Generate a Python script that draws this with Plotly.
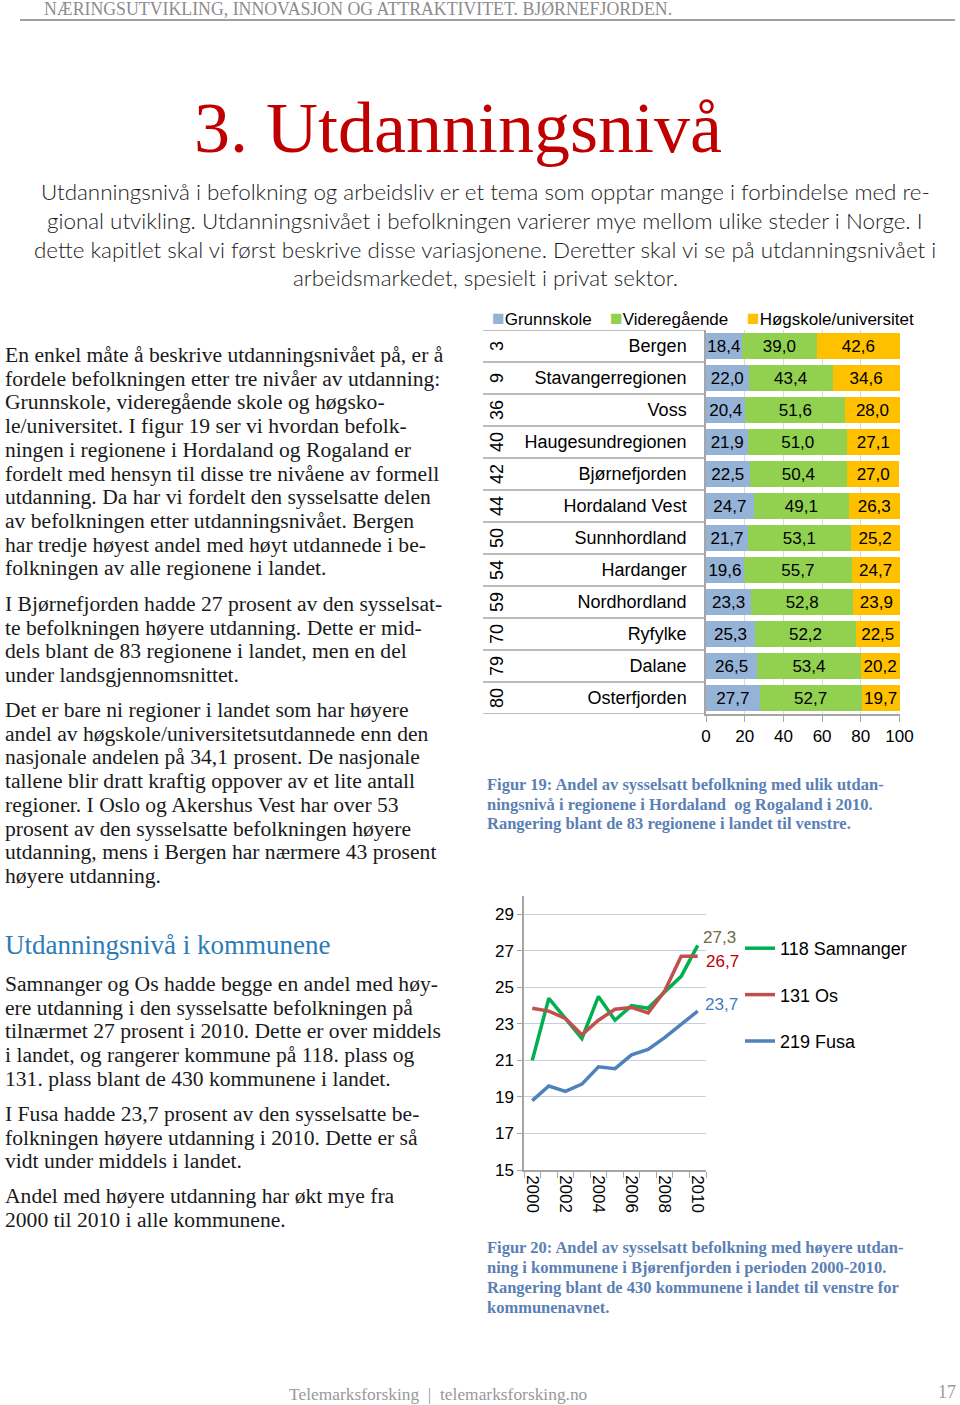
import plotly.graph_objects as go

W, H = 960, 1405
def X(px): return px / W
def Y(py): return 1 - py / H

# ---------------- data ----------------
regions = ["Bergen", "Stavangerregionen", "Voss", "Haugesundregionen", "Bjørnefjorden",
           "Hordaland Vest", "Sunnhordland", "Hardanger", "Nordhordland", "Ryfylke",
           "Dalane", "Osterfjorden"]
ranks = [3, 9, 36, 40, 42, 44, 50, 54, 59, 70, 79, 80]
grunnskole = [18.4, 22.0, 20.4, 21.9, 22.5, 24.7, 21.7, 19.6, 23.3, 25.3, 26.5, 27.7]
videregaende = [39.0, 43.4, 51.6, 51.0, 50.4, 49.1, 53.1, 55.7, 52.8, 52.2, 53.4, 52.7]
hogskole = [42.6, 34.6, 28.0, 27.1, 27.0, 26.3, 25.2, 24.7, 23.9, 22.5, 20.2, 19.7]
bar_series = ["Grunnskole", "Videregående", "Høgskole/universitet"]

years = [2000, 2001, 2002, 2003, 2004, 2005, 2006, 2007, 2008, 2009, 2010]
samnanger = [21.0, 24.4, 23.3, 22.2, 24.5, 23.2, 24.0, 23.85, 24.75, 25.6, 27.3]
os_ = [23.85, 23.7, 23.3, 22.4, 23.2, 23.8, 23.9, 23.6, 24.8, 26.7, 26.7]
fusa = [18.8, 19.6, 19.3, 19.7, 20.65, 20.55, 21.3, 21.6, 22.25, 23.0, 23.7]
line_names = ["118 Samnanger", "131 Os", "219 Fusa"]

def fmt(v):
    return f"{v:.1f}".replace(".", ",")

SANS = "Liberation Sans, Arial, sans-serif"
SERIF = "Liberation Serif, Times New Roman, serif"
BAR_COLORS = ["#95B3D7", "#92D050", "#FFC000"]
LINE_COLORS = ["#00B050", "#C0504D", "#4F81BD"]
LABEL_COLORS = ["#6B6B45", "#C00000", "#3A7EC0"]
LABEL_SHIFTS = [(22, 8), (25, -5), (24, 7)]

fig = go.Figure()

# ---------------- bar chart ----------------
for name, vals, col in zip(bar_series, [grunnskole, videregaende, hogskole], BAR_COLORS):
    fig.add_trace(go.Bar(
        y=regions, x=vals, orientation="h", name=name, marker_color=col,
        marker_line_width=0, text=[fmt(v) for v in vals], textposition="inside",
        insidetextanchor="middle", constraintext="none",
        textfont=dict(family=SANS, size=17, color="black"),
        showlegend=False, xaxis="x", yaxis="y", cliponaxis=False))

# ---------------- line chart ----------------
ann = []
for name, vals, col, lcol, (dx, dy) in zip(line_names, [samnanger, os_, fusa], LINE_COLORS,
                                           LABEL_COLORS, LABEL_SHIFTS):
    fig.add_trace(go.Scatter(
        x=years, y=vals, mode="lines", name=name, line=dict(color=col, width=3.5),
        legendgroup=name, xaxis="x2", yaxis="y2"))
    ann.append(dict(x=years[-1], y=vals[-1], xref="x2", yref="y2", text=fmt(vals[-1]),
                    showarrow=False, xshift=dx, yshift=dy,
                    font=dict(family=SANS, size=17, color=lcol)))

AX_LINE = "#A6A6A6"
fig.update_layout(
    width=W, height=H, margin=dict(l=0, r=0, t=0, b=0, autoexpand=False),
    paper_bgcolor="white", plot_bgcolor="rgba(0,0,0,0)",
    barmode="stack", bargap=0.19,
    uniformtext=dict(minsize=17, mode="show"),
    xaxis=dict(domain=[X(706), X(900)], anchor="y", range=[0, 100.25],
               tickvals=[0, 20, 40, 60, 80, 100], showgrid=True, gridcolor="#D9D9D9",
               showline=True, linecolor=AX_LINE, linewidth=1.5, ticks="outside", ticklen=6,
               tickcolor=AX_LINE, tickfont=dict(family=SANS, size=17, color="black"),
               zeroline=False, automargin=False),
    yaxis=dict(domain=[Y(714), Y(330)], anchor="x", type="category",
               categoryorder="array", categoryarray=regions, range=[11.5, -0.5],
               showline=True, linecolor=AX_LINE, linewidth=1.5, ticks="",
               ticklabelstandoff=14, automargin=False,
               tickfont=dict(family=SANS, size=18, color="black"), showgrid=False),
    xaxis2=dict(domain=[X(524), X(706)], anchor="y2", range=[1999.5, 2010.5],
                tickvals=[2000, 2002, 2004, 2006, 2008, 2010], tickangle=90, ticks="",
                showline=True, linecolor=AX_LINE, linewidth=1.5, showgrid=False, zeroline=False,
                tickfont=dict(family=SANS, size=17, color="black"), automargin=False,
                minor=dict(tick0=1999.5, dtick=1, ticks="outside", ticklen=6,
                           tickcolor=AX_LINE, showgrid=False)),
    yaxis2=dict(domain=[Y(1170), Y(896)], anchor="x2", range=[15, 30],
                tickvals=[15, 17, 19, 21, 23, 25, 27, 29], showgrid=True,
                gridcolor="#C3D0DF", gridwidth=1.3, showline=True, linecolor=AX_LINE,
                linewidth=1.5, ticks="outside", ticklen=5, tickcolor=AX_LINE,
                tickfont=dict(family=SANS, size=17, color="black"), zeroline=False,
                automargin=False),
    legend=dict(x=X(740), y=Y(930), xanchor="left", yanchor="top", orientation="v",
                font=dict(family=SANS, size=18, color="black"), tracegroupgap=20,
                bgcolor="rgba(0,0,0,0)", itemwidth=30),
)

shapes = []
# header rule
shapes.append(dict(type="line", xref="paper", yref="paper", x0=X(20), x1=X(955),
                   y0=Y(20), y1=Y(20), line=dict(color="#A0A0A0", width=2)))
# table row separators
for k in range(len(regions) + 1):
    shapes.append(dict(type="line", xref="paper", yref="y", x0=X(483), x1=X(706),
                       y0=k - 0.5, y1=k - 0.5, line=dict(color=AX_LINE, width=1.5)))
fig.update_layout(shapes=shapes)

def txt(x, y, s, size, color, family, xanchor="left", **kw):
    ann.append(dict(x=X(x), y=Y(y), xref="paper", yref="paper", text=s, showarrow=False,
                    xanchor=xanchor, yanchor="middle",
                    font=dict(size=size, color=color, family=family, **kw.pop("f", {})), **kw))

# rank numbers
for r, reg in zip(ranks, regions):
    ann.append(dict(x=X(497), y=reg, xref="paper", yref="y", text=str(r), showarrow=False,
                    textangle=-90, font=dict(family=SANS, size=18, color="black")))

# bar legend
for x0, name, col in zip([490, 608, 745], bar_series, BAR_COLORS):
    txt(x0, 318, f"<span style='color:{col};font-size:21px'>■</span>{name}", 17, "black", SANS)

# header & title
txt(42, 9, "NÆRINGSUTVIKLING, INNOVASJON OG ATTRAKTIVITET. BJØRNEFJORDEN.", 17.8, "#8C8C8C", SERIF)
txt(458, 128, "3. Utdanningsnivå", 72, "#C00000", SERIF, xanchor="center")

intro = ["Utdanningsnivå i befolkning og arbeidsliv er et tema som opptar mange i forbindelse med re-",
         "gional utvikling. Utdanningsnivået i befolkningen varierer mye mellom ulike steder i Norge. I",
         "dette kapitlet skal vi først beskrive disse variasjonene. Deretter skal vi se på utdanningsnivået i",
         "arbeidsmarkedet, spesielt i privat sektor."]
for s, y in zip(intro, [192, 221, 250, 278]):
    txt(485, y, s, 22.4, "#1A1A1A", "Lato, Open Sans, sans-serif", xanchor="center",
        f=dict(weight=300))

body = [
    (["En enkel måte å beskrive utdanningsnivået på, er å",
      "fordele befolkningen etter tre nivåer av utdanning:",
      "Grunnskole, videregående skole og høgsko-",
      "le/universitet. I figur 19 ser vi hvordan befolk-",
      "ningen i regionene i Hordaland og Rogaland er",
      "fordelt med hensyn til disse tre nivåene av formell",
      "utdanning. Da har vi fordelt den sysselsatte delen",
      "av befolkningen etter utdanningsnivået. Bergen",
      "har tredje høyest andel med høyt utdannede i be-",
      "folkningen av alle regionene i landet."], 355),
    (["I Bjørnefjorden hadde 27 prosent av den sysselsat-",
      "te befolkningen høyere utdanning. Dette er mid-",
      "dels blant de 83 regionene i landet, men en del",
      "under landsgjennomsnittet."], 604),
    (["Det er bare ni regioner i landet som har høyere",
      "andel av høgskole/universitetsutdannede enn den",
      "nasjonale andelen på 34,1 prosent. De nasjonale",
      "tallene blir dratt kraftig oppover av et lite antall",
      "regioner. I Oslo og Akershus Vest har over 53",
      "prosent av den sysselsatte befolkningen høyere",
      "utdanning, mens i Bergen har nærmere 43 prosent",
      "høyere utdanning."], 710),
    (["Samnanger og Os hadde begge en andel med høy-",
      "ere utdanning i den sysselsatte befolkningen på",
      "tilnærmet 27 prosent i 2010. Dette er over middels",
      "i landet, og rangerer kommune på 118. plass og",
      "131. plass blant de 430 kommunene i landet."], 984),
    (["I Fusa hadde 23,7 prosent av den sysselsatte be-",
      "folkningen høyere utdanning i 2010. Dette er så",
      "vidt under middels i landet."], 1114),
    (["Andel med høyere utdanning har økt mye fra",
      "2000 til 2010 i alle kommunene."], 1196),
]
for lines, y0 in body:
    for i, s in enumerate(lines):
        txt(3, y0 + i * 23.7, s, 21.6, "#1A1A1A", SERIF)

txt(3, 945, "Utdanningsnivå i kommunene", 27, "#2C7BB6", SERIF)

cap19 = ["Figur 19: Andel av sysselsatt befolkning med ulik utdan-",
         "ningsnivå i regionene i Hordaland  og Rogaland i 2010.",
         "Rangering blant de 83 regionene i landet til venstre."]
for i, s in enumerate(cap19):
    txt(485, 784 + i * 20, s, 16.5, "#5B80B5", SERIF, f=dict(weight="bold"))

cap20 = ["Figur 20: Andel av sysselsatt befolkning med høyere utdan-",
         "ning i kommunene i Bjørenfjorden i perioden 2000-2010.",
         "Rangering blant de 430 kommunene i landet til venstre for",
         "kommunenavnet."]
for i, s in enumerate(cap20):
    txt(485, 1247 + i * 20, s, 16.5, "#5B80B5", SERIF, f=dict(weight="bold"))

txt(287, 1394, "Telemarksforsking  |  telemarksforsking.no", 17.4, "#999999", SERIF)
txt(958, 1392, "17", 18, "#999999", SERIF, xanchor="right")

fig.update_layout(annotations=ann)
fig.write_html("out.html", config={"displayModeBar": False},
               post_script="document.body.style.margin='0';document.body.style.overflow='hidden';")
